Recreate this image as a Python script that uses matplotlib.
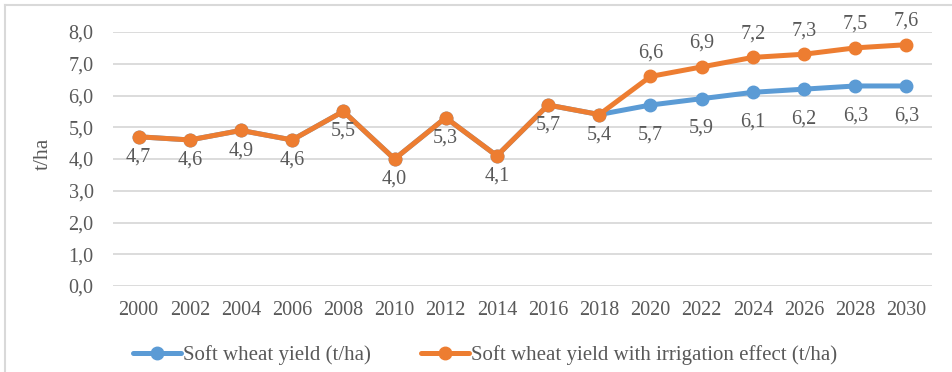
import matplotlib.pyplot as plt
from matplotlib.lines import Line2D

years = ['2000', '2002', '2004', '2006', '2008', '2010', '2012', '2014',
         '2016', '2018', '2020', '2022', '2024', '2026', '2028', '2030']
yield_base = [4.7, 4.6, 4.9, 4.6, 5.5, 4.0, 5.3, 4.1,
              5.7, 5.4, 5.7, 5.9, 6.1, 6.2, 6.3, 6.3]
yield_irrigated = [4.7, 4.6, 4.9, 4.6, 5.5, 4.0, 5.3, 4.1,
                   5.7, 5.4, 6.6, 6.9, 7.2, 7.3, 7.5, 7.6]
first_forecast = 10  # index of 2020, where the two series split

BLUE = '#5B9BD5'
ORANGE = '#ED7D31'
TEXT = '#595959'
FS = 14.5

plt.rcParams['font.family'] = ['Liberation Serif', 'DejaVu Serif']
plt.rcParams['font.size'] = FS

W, H = 953, 372
fig = plt.figure(figsize=(W / 100, H / 100), dpi=100)
ax = fig.add_axes([113 / W, 1 - 286 / H, (932 - 113) / W, (286 - 32) / H])

x = list(range(len(years)))
line_kw = dict(lw=3.6, marker='o', ms=9, solid_capstyle='round', zorder=3)
ax.plot(x, yield_base, color=BLUE, label='Soft wheat yield (t/ha)', **line_kw)
ax.plot(x, yield_irrigated, color=ORANGE,
        label='Soft wheat yield with irrigation effect (t/ha)', **line_kw)

# value labels: base series below the markers, irrigated forecast above
for i, v in enumerate(yield_base):
    dy = -14.5 if i < first_forecast else -21.5
    ax.annotate(f'{v:.1f}'.replace('.', ','), (i, v), xytext=(0, dy),
                textcoords='offset points', ha='center', va='center',
                color=TEXT, fontsize=FS, zorder=4)
for i in range(first_forecast, len(years)):
    v = yield_irrigated[i]
    ax.annotate(f'{v:.1f}'.replace('.', ','), (i, v), xytext=(0, 17),
                textcoords='offset points', ha='center', va='center',
                color=TEXT, fontsize=FS, zorder=4)

ax.set_xlim(-0.5, len(years) - 0.5)
ax.set_ylim(0, 8)
ax.set_yticks([i * 1.0 for i in range(9)])
ax.set_yticklabels([f'{i},0' for i in range(9)])
ax.set_xticks(x)
ax.set_xticklabels(years)
ax.grid(axis='y', color='#D9D9D9', lw=1.3)
ax.set_axisbelow(True)
ax.tick_params(length=0, colors=TEXT, labelsize=FS)
ax.tick_params(axis='x', pad=11)
ax.tick_params(axis='y', pad=14)
for s in ax.spines.values():
    s.set_visible(False)
ax.set_ylabel('t/ha', color=TEXT, fontsize=15.5)
ax.yaxis.set_label_coords(-0.073, 0.52)

ax.legend(loc='center', bbox_to_anchor=(0.5 + 9 / W, 1 - 355 / H),
          bbox_transform=fig.transFigure, ncol=2, frameon=False, fontsize=15,
          labelcolor=TEXT, handlelength=2.3, handletextpad=0.1, columnspacing=2.4)

# light frame around the chart area
fig.add_artist(Line2D([5 / W, 1], [1 - 5 / H, 1 - 5 / H], color='#D9D9D9', lw=1.5))
fig.add_artist(Line2D([5 / W, 5 / W], [0, 1 - 5 / H], color='#D9D9D9', lw=1.5))

fig.savefig('out.png', dpi=100)
